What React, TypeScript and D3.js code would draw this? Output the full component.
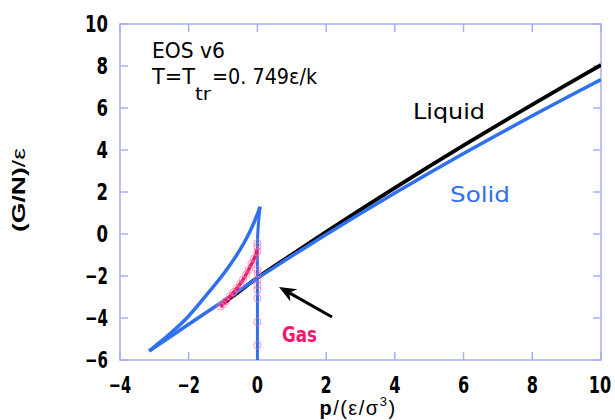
import React from "react";
import * as d3 from "d3";

// Axis ticks
const xTicks = [-4, -2, 0, 2, 4, 6, 8, 10];
const yTicks = [-6, -4, -2, 0, 2, 4, 6, 8, 10];

// Liquid branch, G/N vs p
const liquidP = [-1.0, -0.5, 0, 1, 2, 3, 4, 5, 6, 7, 8, 9, 10];
const liquidG = [-3.32, -2.7, -2.08, -0.98, 0.1, 1.16, 2.2, 3.22, 4.22, 5.2, 6.16, 7.11, 8.05];

// EOS: gas branch near p = 0 (from the bottom up to the spinodal cusp)
const eosGasP = [0.0, 0.0, 0.0, 0.01, 0.04, 0.08];
const eosGasG = [-6.0, -2.0, -0.6, 0.03, 0.7, 1.3];

// EOS: unstable branch (spinodal cusp down to the lower cusp)
const eosMidP = [0.08, -0.08, -0.22, -0.51, -0.94, -1.48, -2.06, -2.64, -2.92, -3.15];
const eosMidG = [1.3, 0.62, 0.11, -0.76, -1.8, -2.9, -4.01, -4.88, -5.26, -5.57];

// EOS: solid branch
const solidP = [-3.15, -2, -1, 0, 1, 2, 3, 4, 5, 6, 7, 8, 9, 10];
const solidG = [-5.57, -4.3, -3.2, -2.1, -1.05, -0.02, 0.98, 1.95, 2.9, 3.83, 4.74, 5.63, 6.5, 7.35];

// Gas EOS curve
const gasCurveP = [-1.05, -0.8, -0.6, -0.45, -0.31, -0.18, -0.07, -0.02];
const gasCurveG = [-3.43, -2.97, -2.59, -2.25, -1.87, -1.45, -1.08, -0.8];

// Simulation points
const simP = [-1.08, -1.0, -0.92, -0.8, -0.7, -0.6, -0.5, -0.42, -0.33, -0.25, -0.17, -0.1,
  0, 0, 0, 0, 0, 0, 0, 0, 0, 0, 0];
const simG = [-3.45, -3.35, -3.2, -2.97, -2.78, -2.59, -2.38, -2.17, -1.93, -1.7, -1.42, -1.17,
  -0.44, -0.6, -0.84, -1.71, -1.87, -2.19, -2.43, -2.67, -3.06, -4.18, -5.29];

const W = 615;
const H = 420;
const left = 120, right = 601, top = 24, bottom = 360;

const axisColor = "#a8aef3";
const blue = "#2f70ef";
const pink = "#f2176f";
const tickFont = "'Liberation Sans Narrow', 'Arial Narrow', 'DejaVu Sans Condensed', sans-serif";
const labelFont = "'Liberation Sans', Arial, sans-serif";

const fmt = (t: number) => (t < 0 ? "\u2212" + Math.abs(t) : String(t));
const pairs = (ps: number[], gs: number[]) => ps.map((p, i) => [p, gs[i]] as [number, number]);

export default function App() {
  const x = d3.scaleLinear().domain([-4, 10]).range([left, right]);
  const y = d3.scaleLinear().domain([-6, 10]).range([bottom, top]);

  const straight = d3.line<[number, number]>().x((d) => x(d[0])).y((d) => y(d[1]));
  const smooth = d3.line<[number, number]>().x((d) => x(d[0])).y((d) => y(d[1])).curve(d3.curveCatmullRom);

  const liquid = smooth(pairs(liquidP, liquidG));
  const eosGas = smooth(pairs(eosGasP, eosGasG));
  const eosMid = smooth(pairs(eosMidP, eosMidG));
  const solid = straight(pairs(solidP, solidG));
  const gas = smooth(pairs(gasCurveP, gasCurveG));

  const tickLen = 8;

  // arrow pointing at the triple point
  const ax0 = 332, ay0 = 317, ax1 = 279, ay1 = 287;
  const ang = Math.atan2(ay1 - ay0, ax1 - ax0);
  const headL = 17, headW = 7;
  const bx = ax1 - headL * Math.cos(ang), by = ay1 - headL * Math.sin(ang);
  const nx = -Math.sin(ang), ny = Math.cos(ang);
  const notchX = ax1 - headL * 0.7 * Math.cos(ang), notchY = ay1 - headL * 0.7 * Math.sin(ang);
  const head = `M${ax1},${ay1} L${bx + nx * headW},${by + ny * headW} L${notchX},${notchY} L${bx - nx * headW},${by - ny * headW} Z`;

  return (
    <svg width={W} height={H} style={{ position: "absolute", left: 0, top: 0, background: "#fff" }}>
      <defs>
        <clipPath id="plot">
          <rect x={left} y={top} width={right - left} height={bottom - top} />
        </clipPath>
      </defs>

      {/* frame and inward ticks */}
      <rect x={left} y={top} width={right - left} height={bottom - top} fill="none" stroke={axisColor} strokeWidth={1.5} />
      {xTicks.map((t) => (
        <g key={"xt" + t}>
          <line x1={x(t)} x2={x(t)} y1={bottom} y2={bottom - tickLen} stroke={axisColor} strokeWidth={1.5} />
          <line x1={x(t)} x2={x(t)} y1={top} y2={top + tickLen} stroke={axisColor} strokeWidth={1.5} />
          <text x={Math.min(x(t), 600)} y={393} textAnchor="middle" fontFamily={tickFont} fontWeight="bold" fontSize={23} fill="#000"
            textLength={fmt(t).length * 11.2} lengthAdjust="spacingAndGlyphs">
            {fmt(t)}
          </text>
        </g>
      ))}
      {yTicks.map((t) => (
        <g key={"yt" + t}>
          <line x1={left} x2={left + tickLen} y1={y(t)} y2={y(t)} stroke={axisColor} strokeWidth={1.5} />
          <line x1={right} x2={right - tickLen} y1={y(t)} y2={y(t)} stroke={axisColor} strokeWidth={1.5} />
          <text x={108} y={y(t) + 8} textAnchor="end" fontFamily={tickFont} fontWeight="bold" fontSize={23} fill="#000"
            textLength={fmt(t).length * 11.5} lengthAdjust="spacingAndGlyphs">
            {fmt(t)}
          </text>
        </g>
      ))}

      {/* axis titles */}
      <text transform="translate(25,190) rotate(-90)" textAnchor="middle" fontFamily={labelFont} fontSize={19} fill="#000"
        textLength={84} lengthAdjust="spacingAndGlyphs">
        <tspan fontWeight="bold">(G/N)</tspan>
        <tspan>/ε</tspan>
      </text>
      <text x={358} y={415} textAnchor="middle" fontFamily={labelFont} fontSize={20} letterSpacing={1.5} fill="#000">
        <tspan fontWeight="bold">p</tspan>
        <tspan>/(ε/σ</tspan>
        <tspan fontSize={13} dy={-9}>3</tspan>
        <tspan dy={9}>)</tspan>
      </text>

      {/* curves */}
      <g clipPath="url(#plot)">
        <path d={liquid ?? ""} fill="none" stroke="#000" strokeWidth={3.8} strokeLinejoin="round" />
        <path d={solid ?? ""} fill="none" stroke={blue} strokeWidth={3.5} strokeLinejoin="round" />
        <path d={eosMid ?? ""} fill="none" stroke={blue} strokeWidth={3.5} />
        <path d={eosGas ?? ""} fill="none" stroke={blue} strokeWidth={3} />
        <path d={gas ?? ""} fill="none" stroke={pink} strokeWidth={3.5} strokeLinecap="round" />
        {simP.map((p, i) => (
          <circle key={"s" + i} cx={x(p)} cy={y(simG[i])} r={3.6} fill="none" stroke="#f5709f" strokeOpacity={0.75} strokeWidth={1} />
        ))}
      </g>

      {/* arrow */}
      <line x1={ax0} y1={ay0} x2={notchX} y2={notchY} stroke="#000" strokeWidth={3} />
      <path d={head} fill="#000" />

      {/* annotations */}
      <text x={152} y={58} fontFamily={tickFont} fontSize={22} fill="#000" textLength={73} lengthAdjust="spacingAndGlyphs">
        EOS  v6
      </text>
      <text x={152} y={84} fontFamily={tickFont} fontSize={22} fill="#000" textLength={43} lengthAdjust="spacingAndGlyphs">
        T=T
      </text>
      <text x={195} y={100} fontFamily={tickFont} fontSize={17} fill="#000" textLength={16} lengthAdjust="spacingAndGlyphs">
        tr
      </text>
      <text x={212} y={84} fontFamily={tickFont} fontSize={22} fill="#000" textLength={105} lengthAdjust="spacingAndGlyphs">
        =0. 749ε/k
      </text>

      <text x={413} y={119} fontFamily={tickFont} fontSize={22} fill="#000" textLength={72} lengthAdjust="spacingAndGlyphs">
        Liquid
      </text>
      <text x={450} y={202} fontFamily={tickFont} fontSize={22} fill={blue} textLength={60} lengthAdjust="spacingAndGlyphs">
        Solid
      </text>
      <text x={282} y={342} fontFamily={tickFont} fontWeight="bold" fontSize={22} fill={pink} textLength={35} lengthAdjust="spacingAndGlyphs">
        Gas
      </text>
    </svg>
  );
}
